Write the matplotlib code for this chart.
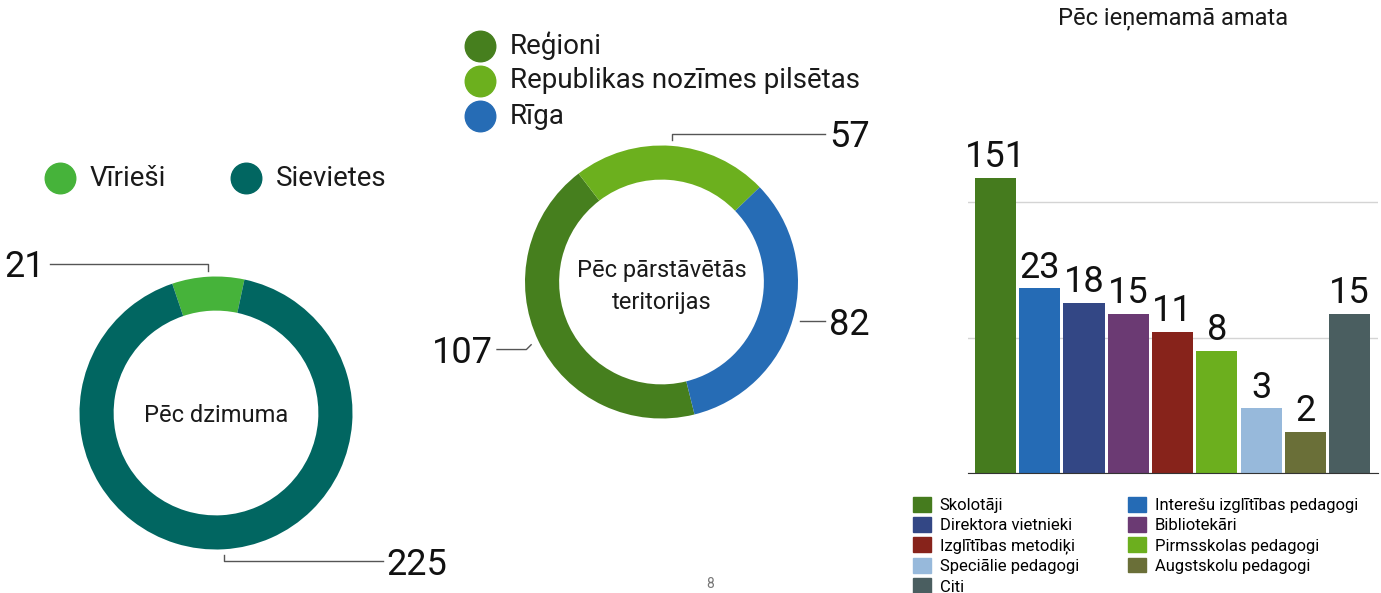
import numpy as np
import matplotlib
matplotlib.use("Agg")
import matplotlib.pyplot as plt
from matplotlib.patches import Patch

plt.rcParams['font.family'] = ['Roboto', 'DejaVu Sans']

# --- data ---
gender_labels = ['Vīrieši', 'Sievietes']
gender_values = [21, 225]
gender_colors = ['#46b33a', '#016661']

terr_labels = ['Reģioni', 'Republikas nozīmes pilsētas', 'Rīga']
terr_values = [107, 57, 82]
terr_colors = ['#467f1e', '#6cb01e', '#266cb5']

role_labels = ['Skolotāji', 'Interešu izglītības pedagogi', 'Direktora vietnieki',
               'Bibliotekāri', 'Izglītības metodiķi', 'Pirmsskolas pedagogi',
               'Speciālie pedagogi', 'Augstskolu pedagogi', 'Citi']
role_values = [151, 23, 18, 15, 11, 8, 3, 2, 15]
role_colors = ['#457b1e', '#256bb5', '#334785', '#6b3a73', '#87231b',
               '#6caf1e', '#97b9db', '#6a6f38', '#4a5e60']

W, H = 1381, 593
fig = plt.figure(figsize=(W / 100, H / 100), dpi=100)

R = 136.5  # donut radius in px
RING = 0.25


def donut_axes(cx, cy):
    s = 3 * R
    ax = fig.add_axes([(cx - s / 2) / W, (H - cy - s / 2) / H, s / W, s / H])
    return ax


def fix_limits(ax):
    # pie() resets limits, so set them after drawing
    ax.set_xlim(-1.5, 1.5)
    ax.set_ylim(-1.5, 1.5)
    ax.set_aspect('equal')
    ax.axis('off')


def mid_angle(values, start, i):
    tot = sum(values)
    before = sum(values[:i]) / tot * 360
    return np.deg2rad(start - before - values[i] / tot * 180)


def legend_dots(items, colors, positions, size=22):
    for (x, y), lab, c in zip(positions, items, colors):
        fig.add_artist(plt.Line2D([x / W], [1 - y / H], marker='o', ms=size,
                                  color=c, ls='none', transform=fig.transFigure))
        fig.text((x + 30) / W, 1 - y / H, lab, fontsize=20, va='center', ha='left',
                 color='#1a1a1a')


numfont = dict(fontsize=26, color='#111111')
lc = '#555555'

# --- donut 1: gender ---
ax1 = donut_axes(216, 413)
start1 = 108.7
ax1.pie(gender_values, colors=gender_colors, startangle=start1, counterclock=False,
        radius=1, wedgeprops=dict(width=RING, linewidth=0))
fix_limits(ax1)
ax1.text(0, -0.02, 'Pēc dzimuma', ha='center', va='center', fontsize=17, color='#1a1a1a')
a = mid_angle(gender_values, start1, 0)
x0, y0 = np.cos(a), np.sin(a) * 1.045
ax1.plot([x0, x0, -1.215], [y0, 1.092, 1.092], color=lc, lw=1)
ax1.text(-1.25, 1.07, str(gender_values[0]), ha='right', va='center', **numfont)
a = mid_angle(gender_values, start1, 1)
x0, y0 = np.cos(a), np.sin(a) * 1.045
ax1.plot([x0, x0, 1.22], [y0, -1.086, -1.086], color=lc, lw=1)
ax1.text(1.25, -1.11, str(gender_values[1]), ha='left', va='center', **numfont)
legend_dots(gender_labels, gender_colors, [(60, 178), (246, 178)])

# --- donut 2: territory ---
ax2 = donut_axes(661.5, 282)
start2 = 284
ax2.pie(terr_values, colors=terr_colors, startangle=start2, counterclock=False,
        radius=1, wedgeprops=dict(width=RING, linewidth=0))
fix_limits(ax2)
ax2.text(0, -0.03, 'Pēc pārstāvētās\nteritorijas', ha='center', va='center', fontsize=17,
         color='#1a1a1a', linespacing=1.5)
# Republikas
a = mid_angle(terr_values, start2, 1)
x0, y0 = np.cos(a), np.sin(a) * 1.045
ax2.plot([x0, x0, 1.198], [y0, 1.084, 1.084], color=lc, lw=1)
ax2.text(1.23, 1.06, str(terr_values[1]), ha='left', va='center', **numfont)
# Riga
a = mid_angle(terr_values, start2, 2)
yy = np.sin(a)
ax2.plot([1.014, 1.198], [yy - 0.012, yy - 0.012], color=lc, lw=1)
ax2.text(1.23, yy - 0.04, str(terr_values[2]), ha='left', va='center', **numfont)
# Regioni
a = mid_angle(terr_values, start2, 0)
x0, y0 = np.cos(a) * 1.06, np.sin(a) * 1.06
ax2.plot([x0, x0 - 0.035, -1.205], [y0, y0 - 0.035, y0 - 0.035], color=lc, lw=1)
ax2.text(-1.235, y0 - 0.06, str(terr_values[0]), ha='right', va='center', **numfont)
legend_dots(terr_labels, terr_colors, [(480, 46), (480, 81), (480, 116)])

# --- bar chart: role ---
ax3 = fig.add_axes([968 / W, (H - 473) / H, 410 / W, 333 / H])
x = np.arange(len(role_values))
bars = ax3.bar(x, role_values, width=0.93, color=role_colors)
ax3.set_yscale('log')
ax3.set_ylim(1, 10 ** (333 / 135.5))
ax3.set_xlim(-0.62, 8.64)
ax3.bar_label(bars, padding=2, **numfont)
ax3.set_yticks([1, 10, 100])
ax3.set_yticks([], minor=True)
ax3.yaxis.grid(True, color='#d4d4d4', lw=1)
ax3.set_axisbelow(True)
ax3.tick_params(length=0, labelleft=False, labelbottom=False)
for s in ['top', 'right', 'left']:
    ax3.spines[s].set_visible(False)
ax3.spines['bottom'].set_color('#333333')
fig.text(1173 / W, 1 - 18 / H, 'Pēc ieņemamā amata', ha='center', va='center',
         fontsize=17, color='#1a1a1a')

order = [0, 2, 4, 6, 8, 1, 3, 5, 7]
handles = [Patch(color=role_colors[i], label=role_labels[i]) for i in order]
fig.legend(handles=handles, ncol=2, loc='upper left', bbox_to_anchor=(913 / W, 1 - 497 / H),
           frameon=False, fontsize=12, handlelength=1.1, handleheight=1.0,
           handletextpad=0.5, labelspacing=0.24, columnspacing=2.95, borderpad=0,
           borderaxespad=0)

fig.text(710 / W, 1 - 584 / H, '8', ha='center', va='center', fontsize=10, color='#777777')

fig.savefig('out.png', dpi=100)
